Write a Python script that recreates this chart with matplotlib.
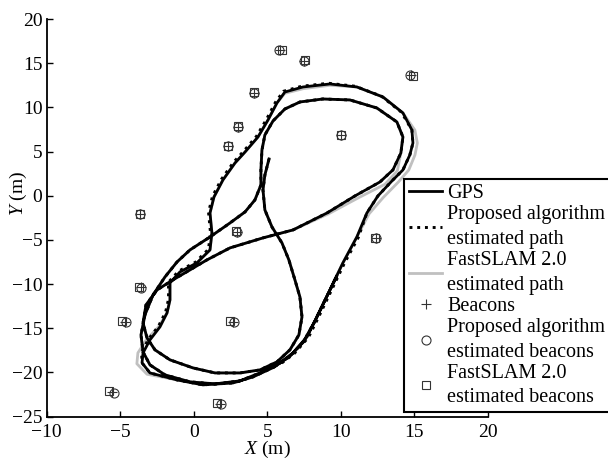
import matplotlib
matplotlib.use('Agg')
import matplotlib.pyplot as plt
import numpy as np

plt.rcParams['font.family'] = ['Liberation Serif', 'DejaVu Serif']
plt.rcParams['mathtext.fontset'] = 'custom'
plt.rcParams['mathtext.rm'] = 'Liberation Serif'
plt.rcParams['mathtext.it'] = 'Liberation Serif:italic'

# GPS track (m), in driving order
gps_x = [5.12, 4.84, 4.71, 4.84, 5.32, 6.00, 6.47, 6.88, 7.22, 7.36, 7.15, 6.54, 5.66, 4.50,
         3.15, 1.45, -0.05, -1.61, -2.63, -3.17, -3.44, -3.24, -2.49, -1.41, -0.25, 0.90,
         2.47, 4.71, 6.75, 9.06, 10.96, 12.66, 13.54, 14.08, 14.22, 13.81, 12.45, 10.62,
         8.78, 7.22, 6.20, 5.39, 4.84, 4.64, 4.57, 4.57,
         4.16, 3.49, 2.47, 1.11, -0.25, -1.13, -1.95, -2.76, -3.31, -3.58, -3.44, -2.97,
         -1.95, -0.25, 1.45, 3.15, 4.50, 5.86, 6.75, 7.70, 8.38, 9.26, 10.14, 11.09, 11.77,
         12.52, 13.47, 14.22, 14.69, 14.90, 14.83, 14.22, 12.86, 11.09, 9.26, 7.43, 6.20,
         5.66, 5.05, 4.37, 3.49, 2.81, 1.99, 1.38, 1.11, 1.24, 1.11, 0.22, -0.93, -1.61,
         -1.61, -1.81, -2.29, -2.97, -3.44, -3.51, -2.97, -1.13, 0.63, 2.67, 4.03, 5.45,
         6.55, 7.45, 8.20, 8.93, 9.71]
gps_y = [4.16, 2.35, 0.66, -1.61, -3.53, -5.34, -7.26, -9.52, -11.45, -13.71, -15.75, -17.44,
         -18.80, -19.71, -20.05, -20.05, -19.48, -18.57, -17.44, -16.09, -14.39, -12.35,
         -10.66, -9.52, -8.39, -7.26, -5.90, -4.77, -3.87, -1.95, -0.02, 1.56, 2.92, 4.84,
         6.65, 8.35, 9.93, 10.84, 10.95, 10.61, 9.82, 8.46, 6.88, 5.18, 2.92, 1.22,
         -0.48, -1.83, -3.08, -4.66, -6.13, -7.49, -9.19, -11.22, -13.48, -15.75, -17.67,
         -19.14, -20.27, -21.06, -21.29, -20.95, -20.05, -18.91, -17.78, -15.97, -13.71,
         -10.66, -7.60, -4.66, -1.95, -0.02, 1.67, 2.92, 4.62, 5.97, 7.44, 9.37, 11.18,
         12.31, 12.65, 12.31, 11.74,
         10.50, 8.57, 6.65, 4.95, 3.71, 1.79, -0.14, -1.95, -4.21, -6.13, -7.60, -8.62,
         -9.86, -11.79, -13.26, -14.84, -16.31, -17.78, -18.91, -20.05, -20.84, -21.40,
         -21.18, -20.50, -19.40, -18.15, -16.55, -14.30, -11.79, -9.13]

# where the FastSLAM 2.0 path visibly leaves the GPS track: (point, dx, dy)
fast_dev = [(29, 0.1, -0.1), (30, 0.25, -0.2), (31, 0.35, -0.25), (32, 0.3, -0.1),
            (70, 0.15, -0.1), (71, 0.35, -0.2), (72, 0.45, -0.1), (73, 0.4, 0.0),
            (74, 0.35, 0.0), (75, 0.3, 0.0), (76, 0.2, 0.0), (80, 0.0, -0.15),
            (81, 0.0, -0.2), (82, 0.0, -0.15), (98, -0.1, 0.0), (99, -0.25, 0.0),
            (100, -0.35, 0.0), (101, -0.35, -0.1), (102, -0.2, -0.15)]
# where the proposed path sits beside the GPS track: (first, last, dx, dy)
prop_dev = [(63, 69, 0.1, -0.05), (77, 100, -0.1, 0.08)]

# beacons (m)
beacon_x = [5.86, 7.49, 14.77, 4.12, 3.03, 2.35, 10.00, -3.65, 2.92, 12.38, -3.58, -4.67, 2.69, -5.53, 1.79]
beacon_y = [16.50, 15.30, 13.67, 11.66, 7.82, 5.63, 6.88, -2.10, -4.06, -4.77, -10.35, -14.24, -14.24, -22.20, -23.55]
prop_bx = [5.80, 7.49, 14.70, 4.12, 3.03, 2.35, 10.02, -3.62, 2.95, 12.40, -3.55, -4.60, 2.75, -5.40, 1.85]
prop_by = [16.45, 15.25, 13.70, 11.66, 7.80, 5.63, 6.88, -2.10, -4.06, -4.77, -10.40, -14.24, -14.30, -22.30, -23.60]
fast_bx = [6.00, 7.55, 14.90, 4.12, 3.00, 2.32, 9.98, -3.65, 2.85, 12.35, -3.70, -4.85, 2.50, -5.75, 1.60]
fast_by = [16.45, 15.35, 13.55, 11.70, 7.85, 5.63, 6.90, -2.05, -4.00, -4.75, -10.30, -14.15, -14.20, -22.05, -23.50]

fast_x, fast_y = np.array(gps_x), np.array(gps_y)
for i, dx, dy in fast_dev:
    fast_x[i] += dx
    fast_y[i] += dy
prop_x, prop_y = np.array(gps_x), np.array(gps_y)
for a, b, dx, dy in prop_dev:
    prop_x[a:b + 1] += dx
    prop_y[a:b + 1] += dy

fig = plt.figure(figsize=(6.08, 4.59), dpi=100)
ax = fig.add_axes([0.0765, 0.0922, 0.7261, 0.8664])

l_fast, = ax.plot(fast_x, fast_y, color='#c0c0c0', lw=2.0, solid_joinstyle='round')
l_gps, = ax.plot(gps_x, gps_y, color='black', lw=2.0, solid_joinstyle='round')
l_prop, = ax.plot(prop_x, prop_y, color='black', lw=2.1, linestyle=':')

mk = dict(linestyle='none', color='#333333', markerfacecolor='none', markeredgewidth=0.8)
m_true, = ax.plot(beacon_x, beacon_y, '+', markersize=7, **mk)
m_prop, = ax.plot(prop_bx, prop_by, 'o', markersize=6.5, **mk)
m_fast, = ax.plot(fast_bx, fast_by, 's', markersize=5.5, **mk)

ax.set_xlim(-10, 20)
ax.set_ylim(-25, 20)
ax.set_xticks(np.arange(-10, 21, 5))
ax.set_yticks(np.arange(-25, 21, 5))
ax.spines['top'].set_visible(False)
ax.spines['right'].set_visible(False)
for s in ['left', 'bottom']:
    ax.spines[s].set_linewidth(1.3)
ax.tick_params(direction='in', length=4, width=1, labelsize=14)
ax.tick_params(axis='x', pad=5)
ax.tick_params(axis='y', pad=3)

ax.set_xlabel(r'$X$ (m)', fontsize=14)
ax.set_ylabel(r'$Y$ (m)', fontsize=14)
ax.xaxis.set_label_coords(0.5, -0.057)
ax.yaxis.set_label_coords(-0.04, 0.5625)

labels = ['GPS', 'Proposed algorithm\nestimated path', 'FastSLAM 2.0\nestimated path',
          'Beacons', 'Proposed algorithm\nestimated beacons', 'FastSLAM 2.0\nestimated beacons']
leg = ax.legend([l_gps, l_prop, l_fast, m_true, m_prop, m_fast], labels,
                loc='upper left', bbox_to_anchor=(404 / 608, 1 - 179 / 459),
                bbox_transform=fig.transFigure, borderaxespad=0, fontsize=14.5,
                handlelength=1.65, handletextpad=0.25, labelspacing=0.1,
                borderpad=0.25, fancybox=False, framealpha=1, edgecolor='black')
leg.get_frame().set_linewidth(1.5)
for t in leg.get_texts():
    t.set_linespacing(1.41)

fig.savefig('out.png', dpi=100)
